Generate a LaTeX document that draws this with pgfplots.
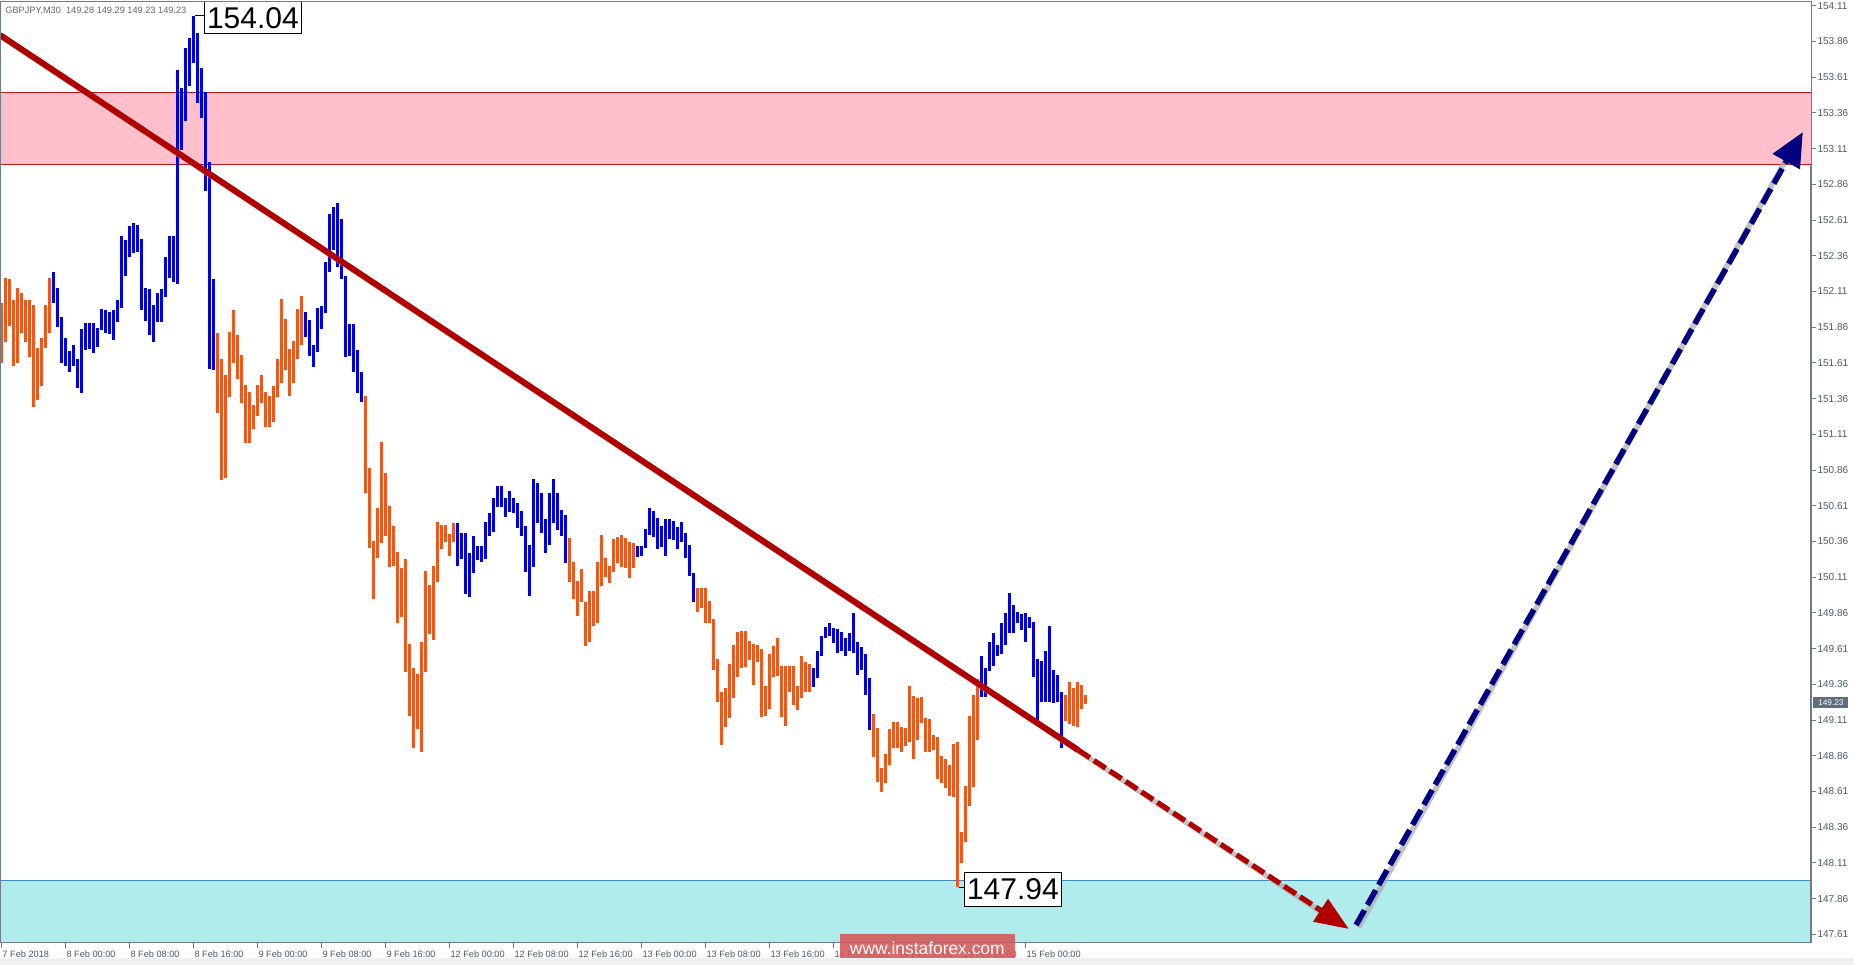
\documentclass[border=0pt]{standalone}
\usepackage{fontspec}
\setmainfont{Liberation Sans}
\usepackage{pgfplots}
\pgfplotsset{compat=1.18}
\usepackage{pgfplotstable}
\usetikzlibrary{arrows.meta}

\definecolor{barblue}{RGB}{0,0,228}
\definecolor{barorange}{RGB}{238,88,28}
\definecolor{trendred}{RGB}{176,0,0}
\definecolor{arrownavy}{RGB}{0,0,128}
\definecolor{pinkzone}{RGB}{255,192,203}
\definecolor{pinkline}{RGB}{200,20,20}
\definecolor{cyanzone}{RGB}{176,236,236}
\definecolor{cyanline}{RGB}{60,140,200}
\definecolor{axisgray}{RGB}{110,125,140}
\definecolor{labelgray}{RGB}{80,90,100}
\definecolor{priceg}{RGB}{95,110,125}
\definecolor{wmred}{RGB}{212,88,88}
\definecolor{shadow}{RGB}{170,170,170}

% bars: k = bar index (M30), lo = low, hi = high
\pgfplotstableread{
k lo hi
0 151.612 152.027
1 151.754 152.207
2 151.871 152.200
3 151.591 152.051
4 151.612 152.132
5 151.817 152.097
6 151.759 152.051
7 151.654 152.051
8 151.304 152.016
9 151.351 151.712
10 151.449 151.782
11 151.717 152.016
12 151.817 152.207
54 151.257 151.818
55 150.791 151.638
56 150.802 151.526
57 151.374 151.825
58 151.612 151.981
59 151.498 151.806
60 151.332 151.666
61 151.047 151.456
62 151.047 151.409
63 151.145 151.316
64 151.239 151.456
65 151.327 151.526
66 151.164 151.409
67 151.164 151.379
68 151.199 151.449
69 151.374 151.636
70 151.472 152.058
71 151.561 151.918
72 151.381 151.708
73 151.472 151.764
74 151.636 151.988
75 151.736 152.079
91 150.698 151.379
92 150.313 150.873
93 149.955 150.364
94 150.243 150.597
95 150.352 151.059
96 150.401 150.838
97 150.184 150.609
98 150.191 150.469
99 149.787 150.285
100 149.834 150.177
101 149.449 150.238
102 149.141 149.640
103 148.912 149.477
104 149.048 149.433
105 148.889 149.654
106 149.449 150.154
107 149.713 150.056
108 149.671 150.189
109 150.079 150.499
110 150.308 150.476
111 150.359 150.476
112 150.261 150.413
113 150.355 150.492
142 150.079 150.383
143 149.956 150.219
144 149.841 150.086
145 149.939 150.166
146 149.631 149.935
147 149.659 150.016
148 149.769 150.014
149 149.792 150.219
150 150.049 150.406
151 150.114 150.243
152 150.068 150.189
153 150.149 150.378
154 150.208 150.394
155 150.184 150.406
156 150.173 150.383
157 150.103 150.359
158 150.173 150.348
174 149.869 150.033
175 149.893 150.033
176 149.792 150.033
177 149.788 149.944
178 149.461 149.818
179 149.239 149.538
180 148.936 149.309
181 149.064 149.332
182 149.122 149.503
183 149.262 149.636
184 149.414 149.729
185 149.473 149.734
186 149.484 149.734
187 149.531 149.664
188 149.356 149.641
189 149.519 149.636
190 149.134 149.608
191 149.139 149.351
192 149.188 149.571
193 149.414 149.631
194 149.419 149.687
195 149.134 149.491
196 149.071 149.491
197 149.309 149.491
198 149.216 149.491
199 149.181 149.349
200 149.262 149.561
201 149.309 149.519
202 149.309 149.503
218 148.854 149.153
219 148.679 149.053
220 148.609 148.773
221 148.672 148.873
222 148.796 149.048
223 148.913 149.095
224 148.913 149.095
225 148.889 149.064
226 148.931 149.053
227 148.959 149.351
228 148.838 149.281
229 148.971 149.263
230 149.092 149.274
231 148.889 149.122
232 148.889 149.116
233 148.901 149.006
234 148.698 148.994
235 148.667 148.859
236 148.632 148.836
237 148.579 148.796
238 148.574 148.941
239 147.940 148.955
240 148.107 148.329
241 148.254 148.649
242 148.511 149.141
243 148.644 149.286
244 148.971 149.398
266 149.106 149.286
267 149.083 149.375
268 149.069 149.337
269 149.064 149.375
270 149.186 149.356
271 149.223 149.286
}\orangebars

\pgfplotstableread{
k lo hi
13 152.027 152.244
14 151.864 152.132
15 151.612 151.934
16 151.591 151.782
17 151.549 151.694
18 151.591 151.736
19 151.432 151.638
20 151.402 151.848
21 151.701 151.887
22 151.705 151.887
23 151.677 151.892
24 151.724 151.852
25 151.841 151.985
26 151.822 151.981
27 151.810 151.969
28 151.771 151.981
29 151.899 152.051
30 151.992 152.499
31 152.221 152.471
32 152.354 152.571
33 152.377 152.587
34 152.384 152.576
35 151.981 152.478
36 151.906 152.137
37 151.806 152.128
38 151.759 152.016
39 151.894 152.097
40 151.894 152.125
41 152.074 152.349
42 152.202 152.499
43 152.174 152.499
44 152.163 153.661
45 153.101 153.533
46 153.306 153.813
47 153.551 153.883
48 153.708 154.040
49 153.432 153.918
50 153.323 153.673
51 152.816 153.505
52 151.568 153.015
53 151.561 152.198
76 151.794 151.969
77 151.661 151.911
78 151.584 151.736
79 151.689 151.997
80 151.848 152.009
81 151.958 152.315
82 152.250 152.650
83 152.400 152.700
84 152.280 152.730
85 152.200 152.620
86 151.650 152.220
87 151.660 151.880
88 151.550 151.880
89 151.400 151.700
90 151.340 151.550
114 150.191 150.492
115 150.238 150.422
116 149.993 150.422
117 149.974 150.282
118 150.142 150.399
119 150.231 150.329
120 150.219 150.329
121 150.238 150.499
122 150.401 150.562
123 150.429 150.667
124 150.604 150.749
125 150.604 150.749
126 150.534 150.667
127 150.565 150.714
128 150.558 150.667
129 150.453 150.632
130 150.401 150.574
131 150.149 150.469
132 149.981 150.336
133 150.184 150.798
134 150.488 150.768
135 150.422 150.698
136 150.278 150.516
137 150.336 150.698
138 150.488 150.798
139 150.441 150.698
140 150.401 150.581
141 150.208 150.546
159 150.254 150.331
160 150.259 150.329
161 150.313 150.446
162 150.406 150.593
163 150.394 150.574
164 150.306 150.523
165 150.324 150.469
166 150.261 150.516
167 150.376 150.516
168 150.371 150.504
169 150.306 150.464
170 150.359 150.499
171 150.243 150.422
172 150.121 150.336
173 149.939 150.138
203 149.344 149.473
204 149.407 149.594
205 149.559 149.701
206 149.683 149.764
207 149.701 149.788
208 149.652 149.753
209 149.582 149.746
210 149.596 149.725
211 149.561 149.683
212 149.594 149.718
213 149.578 149.858
214 149.426 149.659
215 149.461 149.624
216 149.286 149.571
217 149.041 149.403
245 149.274 149.561
246 149.274 149.477
247 149.454 149.655
248 149.491 149.718
249 149.559 149.636
250 149.571 149.788
251 149.636 149.858
252 149.722 149.998
253 149.718 149.916
254 149.788 149.869
255 149.741 149.851
256 149.655 149.862
257 149.753 149.830
258 149.414 149.799
259 149.111 149.538
260 149.239 149.526
261 149.239 149.594
262 149.239 149.769
263 149.232 149.461
264 149.239 149.426
265 148.913 149.305
}\bluebars

\begin{document}
\begin{tikzpicture}
\begin{axis}[
  scale only axis, width=905.5pt, height=470.5pt,
  xmin=-0.425, xmax=452.325, ymin=147.550, ymax=154.137,
  clip=false, axis on top,
  axis line style={draw=axisgray, line width=0.5pt},
  tick style={draw=axisgray, line width=0.5pt},
  major tick length=2.5pt, tick align=outside,
  xtick pos=left, ytick pos=right,
  xticklabel pos=left, yticklabel pos=right,
  xtick={0,16,...,256},
  xticklabels={7 Feb 2018,8 Feb 00:00,8 Feb 08:00,8 Feb 16:00,9 Feb 00:00,9 Feb 08:00,9 Feb 16:00,12 Feb 00:00,12 Feb 08:00,12 Feb 16:00,13 Feb 00:00,13 Feb 08:00,13 Feb 16:00,14 Feb 00:00,14 Feb 08:00,14 Feb 16:00,15 Feb 00:00},
  ytick={147.61,147.86,148.11,148.36,148.61,148.86,149.11,149.36,149.61,149.86,150.11,150.36,150.61,150.86,151.11,151.36,151.61,151.86,152.11,152.36,152.61,152.86,153.11,153.36,153.61,153.86,154.11},
  yticklabels={147.61,147.86,148.11,148.36,148.61,148.86,149.11,149.36,149.61,149.86,150.11,150.36,150.61,150.86,151.11,151.36,151.61,151.86,152.11,152.36,152.61,152.86,153.11,153.36,153.61,153.86,154.11},
  xticklabel style={anchor=north west, inner sep=0pt, yshift=-1.0pt, xshift=0.2pt, font=\fontsize{4.6}{5}\selectfont, text=labelgray},
  yticklabel style={anchor=west, inner sep=0pt, xshift=0.6pt, font=\fontsize{5.0}{6}\selectfont, text=labelgray},
]
% zones
\addplot[draw=none, fill=pinkzone, forget plot] coordinates {(-0.425,153.0) (452.325,153.0) (452.325,153.5) (-0.425,153.5)} -- cycle;
\addplot[pinkline, line width=0.5pt, forget plot] coordinates {(-0.425,153.5) (452.325,153.5)};
\addplot[pinkline, line width=0.5pt, forget plot] coordinates {(-0.425,153.0) (452.325,153.0)};
\addplot[draw=none, fill=cyanzone, forget plot] coordinates {(-0.425,147.55) (452.325,147.55) (452.325,147.99) (-0.425,147.99)} -- cycle;
\addplot[cyanline, line width=0.5pt, forget plot] coordinates {(-0.425,147.99) (452.325,147.99)};

% bars
\addplot[draw=none, mark=none, forget plot,
  error bars/.cd, y dir=plus, y explicit, error mark=none,
  error bar style={draw=barorange, line width=1.55pt}]
  table[x=k, y=lo, y error expr=\thisrow{hi}-\thisrow{lo}] {\orangebars};
\addplot[draw=none, mark=none, forget plot,
  error bars/.cd, y dir=plus, y explicit, error mark=none,
  error bar style={draw=barblue, line width=1.55pt}]
  table[x=k, y=lo, y error expr=\thisrow{hi}-\thisrow{lo}] {\bluebars};

% shadows
\addplot[shadow, opacity=0.55, line width=3pt, forget plot] coordinates {(0.175,153.889) (269.7,148.884)};
\addplot[shadow, opacity=0.7, line width=2.6pt, forget plot] coordinates {(269.7,148.884) (334.5,147.68)};
\addplot[shadow, opacity=0.7, line width=2.8pt, forget plot] coordinates {(339.2,147.659) (448.0,153.13)};
% trend line
\addplot[trendred, line width=3pt, forget plot] coordinates {(-0.425,153.906) (269.1,148.901)};
\addplot[trendred, line width=2.6pt, dash pattern=on 7pt off 2.5pt, -{Triangle[length=17pt,width=13pt]}, forget plot] coordinates {(269.1,148.901) (336.8,147.648)};
% upward arrow
\addplot[arrownavy, line width=2.8pt, dash pattern=on 8.5pt off 3pt, -{Triangle[length=17pt,width=15pt]}, forget plot] coordinates {(338.6,147.676) (450.3,153.227)};

% extreme labels
\addplot[black, line width=0.5pt, forget plot] coordinates {(48.2,154.04) (50.6,154.04)};
\node[draw=black, fill=white, line width=0.5pt, inner xsep=1.2pt, inner ysep=0pt, minimum height=16pt, anchor=west, font=\fontsize{15}{15}\selectfont] at (axis cs:50.6,154.025) {154.04};
\addplot[black, line width=0.5pt, forget plot] coordinates {(239.2,147.94) (240.6,147.94)};
\node[draw=black, fill=white, line width=0.5pt, inner xsep=1.2pt, inner ysep=0pt, minimum height=17pt, anchor=west, font=\fontsize{15}{15}\selectfont] at (axis cs:240.6,147.925) {147.94};

\node[anchor=north west, inner sep=0pt, text=black!60, font=\fontsize{4.6}{5}\selectfont] at (rel axis cs:0,1) [xshift=2.5pt, yshift=-2.3pt] {GBPJPY,M30\ \ 149.28 149.29 149.23 149.23};

% thicker lower part of the price scale line
\addplot[axisgray, line width=1pt, forget plot] coordinates {(452.325,152.99) (452.325,147.55)};

\coordinate (wm) at (axis cs:231.4,147.511);
\coordinate (cp) at (axis cs:452.325,149.23);
\coordinate (ll) at (rel axis cs:0,0);
\coordinate (ur) at (rel axis cs:1,1);
\end{axis}
\node[fill=wmred, fill opacity=0.88, text opacity=1, text=white, inner sep=0pt, minimum width=87.5pt, minimum height=14.5pt, font=\fontsize{8.7}{9}\selectfont] at (wm) {www.instaforex.com};
\node[fill=priceg, text=white, inner sep=0pt, minimum width=17.5pt, minimum height=5.5pt, anchor=west, font=\fontsize{4.1}{5}\selectfont] at ([xshift=1pt]cp) {149.23};
\pgfresetboundingbox
\path[use as bounding box] ([yshift=-11pt]ll) rectangle ([xshift=21.5pt,yshift=1pt]ur);
\fill[black!6] ([yshift=-11pt]ll) rectangle ([xshift=21.5pt,yshift=-7.5pt]ur |- ll);
\end{tikzpicture}
\end{document}
